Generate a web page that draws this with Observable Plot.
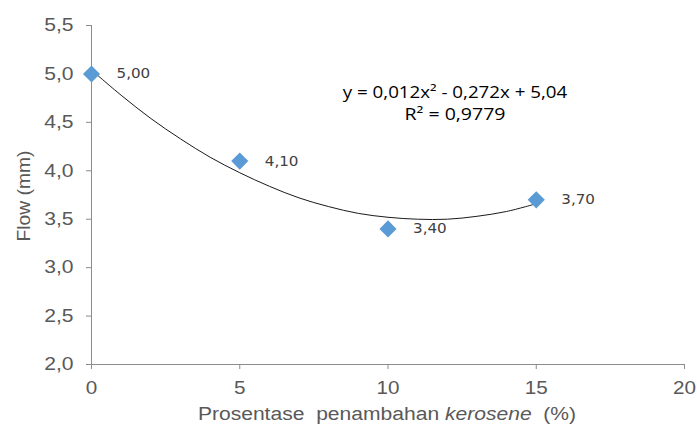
<!DOCTYPE html>
<html>
<head>
<meta charset="utf-8">
<script src="https://cdn.jsdelivr.net/npm/d3@7"></script>
<script src="https://cdn.jsdelivr.net/npm/@observablehq/plot@0.6"></script>
<style>
  html, body { margin: 0; padding: 0; background: #fff; }
  #chart svg { display: block; }
</style>
</head>
<body>
<div id="chart"></div>
<script>
// Observed points
const kerosene = [0, 5, 10, 15];
const flow = [5.00, 4.10, 3.40, 3.70];
const pointLabels = ["5,00", "4,10", "3,40", "3,70"];

// Polynomial trendline
const trendX = [0, 1, 2, 3, 4, 5, 6, 7, 8, 9, 10, 11, 12, 13, 14, 15];
const trendY = [5.04, 4.78, 4.54, 4.33, 4.14, 3.98, 3.84, 3.72, 3.63, 3.56, 3.52, 3.50, 3.50, 3.53, 3.58, 3.66];

const xTicks = [0, 5, 10, 15, 20];
const yTicks = [2.0, 2.5, 3.0, 3.5, 4.0, 4.5, 5.0, 5.5];
const equationText = "y = 0,012x² - 0,272x + 5,04";
const r2Text = "R² = 0,9779";

const points = kerosene.map((k, i) => ({x: k, y: flow[i], label: pointLabels[i]}));
const trend = trendX.map((x, i) => ({x, y: trendY[i]}));
const comma = d => d3.format(".1f")(d).replace(".", ",");

const axisColor = "#8c8c8c";
const textColor = "#595959";

const chart = Plot.plot({
  width: 697,
  height: 429,
  marginLeft: 91,
  marginRight: 13,
  marginTop: 25,
  marginBottom: 65,
  style: {fontFamily: "Liberation Sans, Arial, sans-serif", background: "#fff"},
  x: {domain: [0, 20]},
  y: {domain: [2, 5.5]},
  marks: [
    Plot.ruleY([2], {stroke: axisColor, strokeWidth: 1}),
    Plot.ruleX([0], {stroke: axisColor, strokeWidth: 1}),
    Plot.axisX({ticks: xTicks, tickSize: 5, tickPadding: 12, stroke: axisColor, color: textColor, fontSize: 18, label: null, tickFormat: d => String(d), className: "xax"}),
    Plot.axisY({ticks: yTicks, tickSize: 5, tickPadding: 13, stroke: axisColor, color: textColor, fontSize: 18, label: null, tickFormat: comma, className: "yax"}),
    Plot.line(trend, {x: "x", y: "y", curve: "catmull-rom", stroke: "#1a1a1a", strokeWidth: 1}),
    Plot.dot(points, {x: "x", y: "y", symbol: "diamond2", r: 7.7, fill: "#5b9bd5", stroke: "none"}),
    Plot.text(points, {x: "x", y: "y", text: "label", dx: 25, textAnchor: "start", fill: "#404040", fontSize: 14, fontFamily: "DejaVu Sans, sans-serif", className: "dlab"})
  ]
});

const svg = d3.select(chart);
// Trendline equation annotation
svg.append("text")
  .attr("class", "eq")
  .attr("x", 455).attr("y", 98)
  .attr("text-anchor", "middle")
  .attr("font-family", "Open Sans, sans-serif").attr("font-size", 16).attr("fill", "#000")
  .text(equationText);
svg.append("text")
  .attr("class", "r2")
  .attr("x", 455).attr("y", 120)
  .attr("text-anchor", "middle")
  .attr("font-family", "Open Sans, sans-serif").attr("font-size", 16).attr("fill", "#000")
  .text(r2Text);

// Axis titles
const xl = svg.append("text")
  .attr("class", "xtitle")
  .attr("x", 387).attr("y", 420)
  .attr("text-anchor", "middle")
  .attr("font-family", "Liberation Sans, Arial, sans-serif").attr("font-size", 18).attr("fill", textColor)
  .attr("xml:space", "preserve");
xl.append("tspan").text("Prosentase  penambahan ");
xl.append("tspan").attr("font-style", "italic").text("kerosene");
xl.append("tspan").text("  (%)");

svg.append("text")
  .attr("class", "ytitle")
  .attr("transform", "translate(30,196) rotate(-90)")
  .attr("text-anchor", "middle")
  .attr("font-family", "Liberation Sans, Arial, sans-serif").attr("font-size", 18).attr("fill", textColor)
  .text("Flow (mm)");

document.getElementById("chart").appendChild(chart);

// Widen glyphs slightly to match the reference's stretched lettering
function widen(sel, factor) {
  svg.selectAll(sel).each(function () {
    const w = this.getComputedTextLength();
    if (w > 0) {
      this.setAttribute("textLength", (w * factor).toFixed(1));
      this.setAttribute("lengthAdjust", "spacingAndGlyphs");
    }
  });
}
widen(".xax text", 1.15);
widen(".yax text", 1.17);
widen(".dlab text", 1.08);
widen(".eq", 1.17);
widen(".r2", 1.22);
widen(".xtitle", 1.17);
widen(".ytitle", 1.07);
</script>
</body>
</html>
